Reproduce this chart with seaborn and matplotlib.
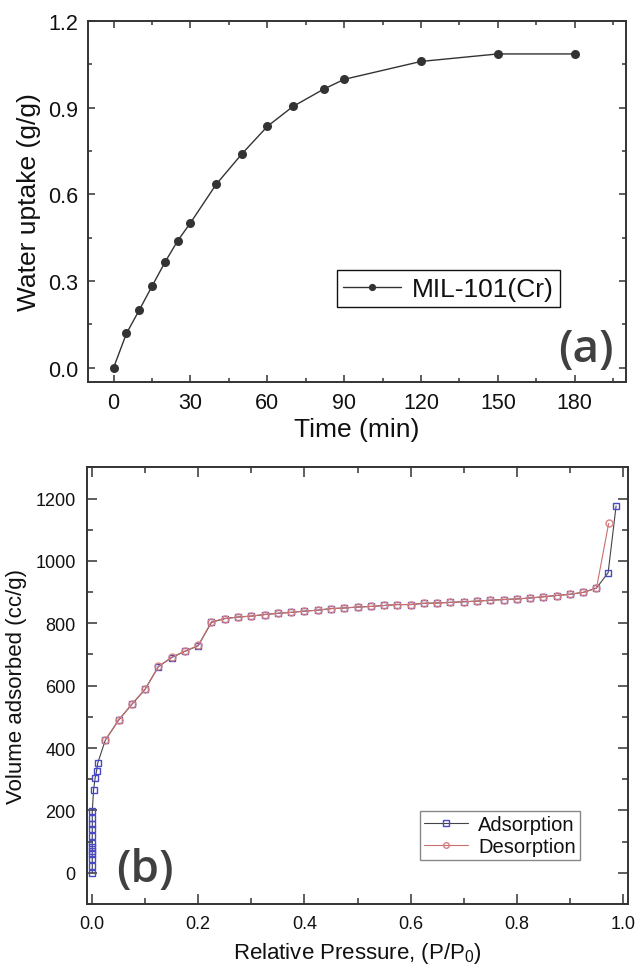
import numpy as np
import pandas as pd
import matplotlib
matplotlib.use("Agg")
import matplotlib.pyplot as plt
from matplotlib.ticker import MultipleLocator
import seaborn as sns

# ---------------- data ----------------
# (a) water uptake kinetics
time_min = [0, 5, 10, 15, 20, 25, 30, 40, 50, 60, 70, 82, 90, 120, 150, 180]
uptake = [0.0, 0.118, 0.199, 0.282, 0.364, 0.439, 0.501, 0.634, 0.739, 0.835,
          0.904, 0.964, 0.998, 1.060, 1.086, 1.086]
series_a = "MIL-101(Cr)"

# (b) N2 isotherm
ads_p = [0.0005, 0.0005, 0.0005, 0.0005, 0.0005, 0.0005, 0.0005, 0.0005, 0.0005,
         0.0005, 0.0005, 0.0005, 0.003, 0.006, 0.0085, 0.011,
         0.025, 0.05, 0.075, 0.1, 0.125, 0.15, 0.175, 0.2, 0.225, 0.25, 0.275,
         0.3, 0.325, 0.35, 0.375, 0.4, 0.425, 0.45, 0.475, 0.5, 0.525, 0.55,
         0.575, 0.6, 0.625, 0.65, 0.675, 0.7, 0.725, 0.75, 0.775, 0.8, 0.825,
         0.85, 0.875, 0.9, 0.925, 0.95, 0.972, 0.987]
ads_v = [0, 21, 43, 59, 69, 82, 96, 117, 139, 158, 176, 198, 267, 305, 326, 353,
         425, 489, 540, 588, 661, 690, 710, 728, 803, 815, 820,
         823, 828, 832, 835, 839, 842, 847, 849, 852, 854, 857,
         860, 860, 864, 865, 867, 869, 871, 874, 876, 878, 881,
         885, 889, 893, 899, 913, 962, 1176]
des_p = [0.973, 0.95, 0.925, 0.9, 0.875, 0.85, 0.825, 0.8, 0.775, 0.75, 0.725,
         0.7, 0.675, 0.65, 0.625, 0.6, 0.575, 0.55, 0.525, 0.5, 0.475, 0.45,
         0.425, 0.4, 0.375, 0.35, 0.325, 0.3, 0.275, 0.25, 0.225, 0.2, 0.175,
         0.15, 0.125, 0.1, 0.075, 0.05, 0.025]
des_v = [1120, 912, 899, 893, 889, 885, 881, 878, 876, 874, 871,
         869, 867, 865, 864, 860, 860, 857, 854, 852, 849, 847,
         842, 839, 835, 832, 828, 823, 820, 815, 805, 729, 711,
         691, 662, 589, 541, 490, 426]
labels_b = ["Adsorption", "Desorption"]

# ---------------- style ----------------
sns.set_style("ticks")
plt.rcParams["font.family"] = ["Liberation Sans", "DejaVu Sans"]
plt.rcParams["mathtext.fontset"] = "custom"
plt.rcParams["mathtext.rm"] = "Liberation Sans"
plt.rcParams["mathtext.it"] = "Liberation Sans"
plt.rcParams["text.color"] = "#111111"
plt.rcParams["axes.labelcolor"] = "#111111"

fig = plt.figure(figsize=(6.38, 9.70), dpi=100)
axa = fig.add_axes([0.138, 0.6052, 0.843, 0.3721])
axb = fig.add_axes([0.1359, 0.0670, 0.8489, 0.4502])

spine_c = "#333333"

# ---------------- panel (a) ----------------
df_a = pd.DataFrame({"t": time_min, "u": uptake})
sns.lineplot(data=df_a, x="t", y="u", ax=axa, color="#333333", lw=1.0,
             marker="o", markersize=6.5, markeredgewidth=0, estimator=None,
             sort=False, label=series_a)
axa.set_xlim(-10, 200)
axa.set_ylim(-0.05, 1.2)
axa.xaxis.set_major_locator(MultipleLocator(30))
axa.xaxis.set_minor_locator(MultipleLocator(15))
axa.yaxis.set_major_locator(MultipleLocator(0.3))
axa.yaxis.set_minor_locator(MultipleLocator(0.15))
axa.yaxis.set_major_formatter(matplotlib.ticker.FormatStrFormatter("%.1f"))
axa.tick_params(which="both", direction="in", top=True, right=True,
                color=spine_c, width=1.1, labelcolor="#111111")
axa.tick_params(which="major", length=5, labelsize=15.5, pad=7)
axa.tick_params(which="minor", length=3)
axa.set_xlabel("Time (min)", fontsize=19, labelpad=3)
axa.set_ylabel("Water uptake (g/g)", fontsize=19, labelpad=5)
for s in axa.spines.values():
    s.set_color(spine_c)
    s.set_linewidth(1.4)
leg = axa.legend(loc="center", bbox_to_anchor=(0.67, 0.258), fontsize=19,
                 frameon=True, fancybox=False, handlelength=2.2,
                 handletextpad=0.4, borderpad=0.25, borderaxespad=0,
                 markerscale=0.8)
leg.get_frame().set_edgecolor("#111111")
leg.get_frame().set_linewidth(1.0)
leg.get_frame().set_alpha(1)
axa.text(0.926, 0.091, "(a)", transform=axa.transAxes, ha="center", va="center",
         fontsize=33, fontweight="semibold", color="#404040", family="Open Sans")

# ---------------- panel (b) ----------------
df_ads = pd.DataFrame({"p": ads_p, "v": ads_v})
df_des = pd.DataFrame({"p": des_p, "v": des_v})
sns.lineplot(data=df_ads, x="p", y="v", ax=axb, color="#444444", lw=0.8,
             marker="s", markersize=5, markerfacecolor="none",
             markeredgecolor="#4848c8", markeredgewidth=1.0,
             estimator=None, sort=False, label=labels_b[0])
sns.lineplot(data=df_des, x="p", y="v", ax=axb, color="#c87070", lw=0.8,
             marker="o", markersize=5, markerfacecolor="none",
             markeredgecolor="#d88080", markeredgewidth=1.0,
             estimator=None, sort=False, label=labels_b[1])
axb.set_xlim(-0.01, 1.01)
axb.set_ylim(-100, 1300)
axb.xaxis.set_major_locator(MultipleLocator(0.2))
axb.xaxis.set_minor_locator(MultipleLocator(0.1))
axb.yaxis.set_major_locator(MultipleLocator(200))
axb.yaxis.set_minor_locator(MultipleLocator(100))
axb.xaxis.set_major_formatter(matplotlib.ticker.FormatStrFormatter("%.1f"))
axb.set_yticks([0, 200, 400, 600, 800, 1000, 1200])
axb.tick_params(which="both", direction="in", top=True, right=True,
                color=spine_c, width=1.1, labelcolor="#111111")
axb.tick_params(which="major", length=7, labelsize=13, pad=8)
axb.tick_params(which="minor", length=4)
axb.set_xlabel("Relative Pressure, (P/P$_0$)", fontsize=16, labelpad=6)
axb.set_ylabel("Volume adsorbed (cc/g)", fontsize=16, labelpad=6)
for s in axb.spines.values():
    s.set_color(spine_c)
    s.set_linewidth(1.4)
legb = axb.legend(loc="center", bbox_to_anchor=(0.763, 0.157), fontsize=14.5,
                  frameon=True, fancybox=False, handlelength=2.2,
                  handletextpad=0.5, borderpad=0.2, labelspacing=0.15,
                  borderaxespad=0, markerscale=0.8)
legb.get_frame().set_edgecolor("#888888")
legb.get_frame().set_linewidth(1.0)
legb.get_frame().set_alpha(1)
axb.text(0.108, 0.080, "(b)", transform=axb.transAxes, ha="center", va="center",
         fontsize=33, fontweight="semibold", color="#404040", family="Open Sans")

fig.savefig("out.png", dpi=100)
